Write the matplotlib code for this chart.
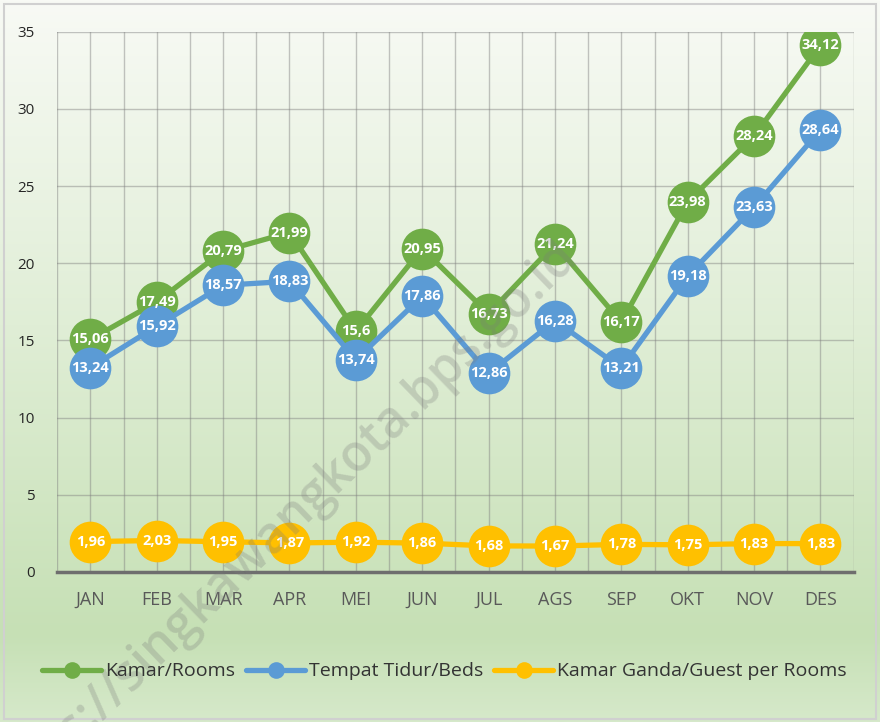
import numpy as np
import matplotlib.pyplot as plt
from matplotlib.colors import LinearSegmentedColormap

months = ["JAN", "FEB", "MAR", "APR", "MEI", "JUN", "JUL", "AGS", "SEP", "OKT", "NOV", "DES"]
rooms = [15.06, 17.49, 20.79, 21.99, 15.6, 20.95, 16.73, 21.24, 16.17, 23.98, 28.24, 34.12]
beds = [13.24, 15.92, 18.57, 18.83, 13.74, 17.86, 12.86, 16.28, 13.21, 19.18, 23.63, 28.64]
guests = [1.96, 2.03, 1.95, 1.87, 1.92, 1.86, 1.68, 1.67, 1.78, 1.75, 1.83, 1.83]

series = [
    ("Kamar/Rooms", rooms, "#70ad47"),
    ("Tempat Tidur/Beds", beds, "#5b9bd5"),
    ("Kamar Ganda/Guest per Rooms", guests, "#ffc000"),
]

plt.rcParams['font.family'] = ['Open Sans', 'DejaVu Sans']

fig = plt.figure(figsize=(8.8, 7.22), dpi=100)

# background gradient
bg = fig.add_axes([0, 0, 1, 1], zorder=-10)
cmap = LinearSegmentedColormap.from_list(
    "bg", [(0, "#d6e9ca"), (0.12, "#c6e0b5"), (0.55, "#e0eed6"), (1, "#f8faf5")])
grad = np.linspace(0, 1, 256).reshape(-1, 1)
bg.imshow(grad, aspect="auto", cmap=cmap, origin="lower", extent=[0, 1, 0, 1])
bg.set_xlim(0, 1)
bg.set_ylim(0, 1)
bg.axis("off")
fig.patches.append(plt.Rectangle((0.004, 0.004), 0.992, 0.99, transform=fig.transFigure,
                                 fill=False, edgecolor="#d0d0d0", linewidth=1.5))

ax = fig.add_axes([0.065, 0.208, 0.905, 0.748])
ax.set_facecolor("none")
x = np.arange(len(months))

for name, vals, color in series:
    ax.plot(x, vals, color=color, linewidth=3.8, marker="o", markersize=30,
            markeredgewidth=0, label=name, zorder=3, solid_capstyle="round")
    for xi, v in zip(x, vals):
        ax.text(xi, v, f"{v:g}".replace(".", ","), ha="center", va="center",
                color="white", fontsize=10.5, fontweight="bold", zorder=4)

ax.set_xlim(-0.5, 11.5)
ax.set_ylim(0, 35)
ax.set_yticks(range(0, 36, 5))
ax.set_xticks(x)
ax.set_xticklabels(months, color="#595959", fontsize=13)
ax.set_xticks(np.arange(-0.5, 12, 0.5), minor=True)
ax.tick_params(axis="x", which="both", length=0, pad=14)
ax.tick_params(axis="y", length=0, labelsize=11, labelcolor="#262626", pad=16)
ax.grid(True, which="both", axis="x", color="#7f7f7f", alpha=0.45, linewidth=1)
ax.grid(True, which="major", axis="y", color="#7f7f7f", alpha=0.45, linewidth=1)
for s in ["top", "right", "left"]:
    ax.spines[s].set_visible(False)
ax.spines["bottom"].set_color("#6e6e6e")
ax.spines["bottom"].set_linewidth(2.5)

leg = fig.legend(loc="center", bbox_to_anchor=(0.505, 0.07), ncol=3, frameon=False,
                 fontsize=14, handlelength=3, columnspacing=0.6, handletextpad=0.2,
                 labelcolor="#333333", markerscale=0.4)

fig.text(0.32, 0.27, "https://singkawangkota.bps.go.id", rotation=44, fontsize=36,
         color="#7a7a7a", alpha=0.28, ha="center", va="center", fontweight="semibold")

fig.savefig("out.png", dpi=100)
